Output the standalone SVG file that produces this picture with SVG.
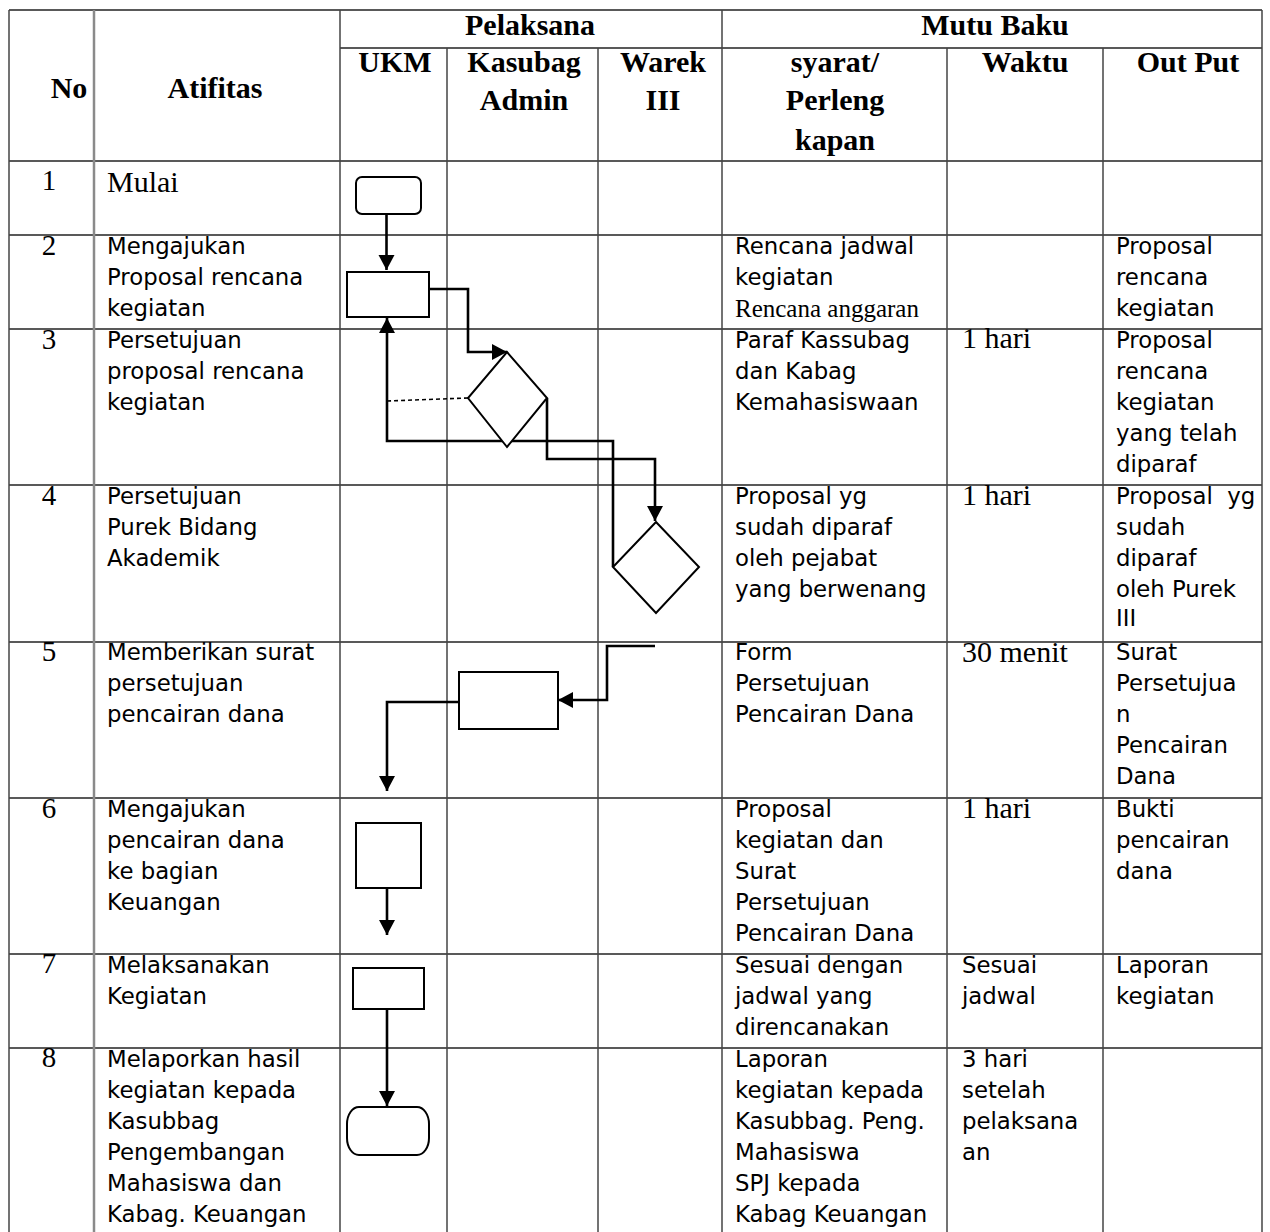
<svg xmlns="http://www.w3.org/2000/svg" width="1270" height="1232" viewBox="0 0 1270 1232">
<style>
.bg{fill:#fff}
.h{stroke:#222;stroke-width:1.3}
.v{stroke:#444;stroke-width:1.5}
.vg{stroke:#8a8a8a;stroke-width:2.5}
.hd{font-family:"Liberation Serif","Times New Roman",serif;font-weight:bold;font-size:30px;fill:#000;text-anchor:middle}
.num{font-family:"Liberation Serif","Times New Roman",serif;font-size:29px;fill:#000;text-anchor:middle}
.ser{font-family:"Liberation Serif","Times New Roman",serif;font-size:30px;fill:#000}
.ser2{font-family:"Liberation Serif","Times New Roman",serif;font-size:25px;fill:#000}
.t{font-family:"DejaVu Sans",Verdana,sans-serif;font-size:22.8px;fill:#000}
.shape{fill:#fff;stroke:#000;stroke-width:2}
.con{fill:none;stroke:#000;stroke-width:2.6}
.dash{fill:none;stroke:#000;stroke-width:1.6;stroke-dasharray:4 3}
</style>
<defs>
<marker id="ah" markerUnits="userSpaceOnUse" markerWidth="16" markerHeight="17" refX="15" refY="8" orient="auto">
<path d="M0,0 L15,8 L0,16 z" fill="#000"/>
</marker>
</defs>
<rect class="bg" x="0" y="0" width="1270" height="1232"/>
<g id="grid">
<line class="h" x1="9" y1="10" x2="1262" y2="10"/>
<line class="h" x1="340" y1="48" x2="1262" y2="48"/>
<line class="h" x1="9" y1="161" x2="1262" y2="161"/>
<line class="h" x1="9" y1="235" x2="1262" y2="235"/>
<line class="h" x1="9" y1="329" x2="1262" y2="329"/>
<line class="h" x1="9" y1="485" x2="1262" y2="485"/>
<line class="h" x1="9" y1="642" x2="1262" y2="642"/>
<line class="h" x1="9" y1="798" x2="1262" y2="798"/>
<line class="h" x1="9" y1="954" x2="1262" y2="954"/>
<line class="h" x1="9" y1="1048" x2="1262" y2="1048"/>
<line class="v" x1="9" y1="10" x2="9" y2="1232"/>
<line class="vg" x1="94" y1="10" x2="94" y2="1232"/>
<line class="v" x1="340" y1="10" x2="340" y2="1232"/>
<line class="v" x1="447" y1="48" x2="447" y2="1232"/>
<line class="v" x1="598" y1="48" x2="598" y2="1232"/>
<line class="v" x1="722" y1="10" x2="722" y2="1232"/>
<line class="v" x1="947" y1="48" x2="947" y2="1232"/>
<line class="v" x1="1103" y1="48" x2="1103" y2="1232"/>
<line class="v" x1="1262" y1="10" x2="1262" y2="1232"/>
</g>
<g id="header">
<text class="hd" x="69" y="98">No</text>
<text class="hd" x="215" y="98">Atifitas</text>
<text class="hd" x="530" y="35">Pelaksana</text>
<text class="hd" x="995" y="35">Mutu Baku</text>
<text class="hd" x="395" y="72">UKM</text>
<text class="hd" x="524" y="72">Kasubag</text>
<text class="hd" x="524" y="110">Admin</text>
<text class="hd" x="663" y="72">Warek</text>
<text class="hd" x="663" y="110">III</text>
<text class="hd" x="835" y="72">syarat/</text>
<text class="hd" x="835" y="110">Perleng</text>
<text class="hd" x="835" y="150">kapan</text>
<text class="hd" x="1025" y="72">Waktu</text>
<text class="hd" x="1188" y="72">Out Put</text>
</g>
<g id="numbers">
<text class="num" x="49" y="190">1</text>
<text class="num" x="49" y="255">2</text>
<text class="num" x="49" y="349">3</text>
<text class="num" x="49" y="505">4</text>
<text class="num" x="49" y="661">5</text>
<text class="num" x="49" y="818">6</text>
<text class="num" x="49" y="973">7</text>
<text class="num" x="49" y="1067">8</text>
</g>
<g id="atifitas">
<text class="ser" x="107" y="192">Mulai</text>
<text class="t" x="107" y="254"><tspan x="107">Mengajukan</tspan><tspan x="107" dy="31">Proposal rencana</tspan><tspan x="107" dy="31">kegiatan</tspan></text>
<text class="t" x="107" y="348"><tspan x="107">Persetujuan</tspan><tspan x="107" dy="31">proposal rencana</tspan><tspan x="107" dy="31">kegiatan</tspan></text>
<text class="t" x="107" y="504"><tspan x="107">Persetujuan</tspan><tspan x="107" dy="31">Purek Bidang</tspan><tspan x="107" dy="31">Akademik</tspan></text>
<text class="t" x="107" y="660"><tspan x="107">Memberikan surat</tspan><tspan x="107" dy="31">persetujuan</tspan><tspan x="107" dy="31">pencairan dana</tspan></text>
<text class="t" x="107" y="817"><tspan x="107">Mengajukan</tspan><tspan x="107" dy="31">pencairan dana</tspan><tspan x="107" dy="31">ke bagian</tspan><tspan x="107" dy="31">Keuangan</tspan></text>
<text class="t" x="107" y="973"><tspan x="107">Melaksanakan</tspan><tspan x="107" dy="31">Kegiatan</tspan></text>
<text class="t" x="107" y="1067"><tspan x="107">Melaporkan hasil</tspan><tspan x="107" dy="31">kegiatan kepada</tspan><tspan x="107" dy="31">Kasubbag</tspan><tspan x="107" dy="31">Pengembangan</tspan><tspan x="107" dy="31">Mahasiswa dan</tspan><tspan x="107" dy="31">Kabag. Keuangan</tspan></text>
</g>
<g id="syarat">
<text class="t" x="735" y="254"><tspan x="735">Rencana jadwal</tspan><tspan x="735" dy="31">kegiatan</tspan></text>
<text class="ser2" x="735" y="317">Rencana anggaran</text>
<text class="t" x="735" y="348"><tspan x="735">Paraf Kassubag</tspan><tspan x="735" dy="31">dan Kabag</tspan><tspan x="735" dy="31">Kemahasiswaan</tspan></text>
<text class="t" x="735" y="504"><tspan x="735">Proposal yg</tspan><tspan x="735" dy="31">sudah diparaf</tspan><tspan x="735" dy="31">oleh pejabat</tspan><tspan x="735" dy="31">yang berwenang</tspan></text>
<text class="t" x="735" y="660"><tspan x="735">Form</tspan><tspan x="735" dy="31">Persetujuan</tspan><tspan x="735" dy="31">Pencairan Dana</tspan></text>
<text class="t" x="735" y="817"><tspan x="735">Proposal</tspan><tspan x="735" dy="31">kegiatan dan</tspan><tspan x="735" dy="31">Surat</tspan><tspan x="735" dy="31">Persetujuan</tspan><tspan x="735" dy="31">Pencairan Dana</tspan></text>
<text class="t" x="735" y="973"><tspan x="735">Sesuai dengan</tspan><tspan x="735" dy="31">jadwal yang</tspan><tspan x="735" dy="31">direncanakan</tspan></text>
<text class="t" x="735" y="1067"><tspan x="735">Laporan</tspan><tspan x="735" dy="31">kegiatan kepada</tspan><tspan x="735" dy="31">Kasubbag. Peng.</tspan><tspan x="735" dy="31">Mahasiswa</tspan><tspan x="735" dy="31">SPJ kepada</tspan><tspan x="735" dy="31">Kabag Keuangan</tspan></text>
</g>
<g id="waktu">
<text class="ser" x="962" y="348">1 hari</text>
<text class="ser" x="962" y="505">1 hari</text>
<text class="ser" x="962" y="662">30 menit</text>
<text class="ser" x="962" y="818">1 hari</text>
<text class="t" x="962" y="973"><tspan x="962">Sesuai</tspan><tspan x="962" dy="31">jadwal</tspan></text>
<text class="t" x="962" y="1067"><tspan x="962">3 hari</tspan><tspan x="962" dy="31">setelah</tspan><tspan x="962" dy="31">pelaksana</tspan><tspan x="962" dy="31">an</tspan></text>
</g>
<g id="output">
<text class="t" x="1116" y="254"><tspan x="1116">Proposal</tspan><tspan x="1116" dy="31">rencana</tspan><tspan x="1116" dy="31">kegiatan</tspan></text>
<text class="t" x="1116" y="348"><tspan x="1116">Proposal</tspan><tspan x="1116" dy="31">rencana</tspan><tspan x="1116" dy="31">kegiatan</tspan><tspan x="1116" dy="31">yang telah</tspan><tspan x="1116" dy="31">diparaf</tspan></text>
<text class="t" x="1116" y="504" xml:space="preserve"><tspan x="1116">Proposal  yg</tspan><tspan x="1116" dy="31">sudah</tspan><tspan x="1116" dy="31">diparaf</tspan><tspan x="1116" dy="31">oleh Purek</tspan><tspan x="1116" dy="29">III</tspan></text>
<text class="t" x="1116" y="660"><tspan x="1116">Surat</tspan><tspan x="1116" dy="31">Persetujua</tspan><tspan x="1116" dy="31">n</tspan><tspan x="1116" dy="31">Pencairan</tspan><tspan x="1116" dy="31">Dana</tspan></text>
<text class="t" x="1116" y="817"><tspan x="1116">Bukti</tspan><tspan x="1116" dy="31">pencairan</tspan><tspan x="1116" dy="31">dana</tspan></text>
<text class="t" x="1116" y="973"><tspan x="1116">Laporan</tspan><tspan x="1116" dy="31">kegiatan</tspan></text>
</g>
<g id="connectors">
<path class="con" d="M386.5,214 L386.5,270" marker-end="url(#ah)"/>
<path class="con" d="M429,289 L468,289 L468,352 L507,352" marker-end="url(#ah)"/>
<path class="con" d="M613,567 L613,441 L387,441 L387,318" marker-end="url(#ah)"/>
<path class="dash" d="M468,398 L387,401"/>
<path class="con" d="M547,398 L547,459 L655,459 L655,521" marker-end="url(#ah)"/>
<path class="con" d="M655,646 L607,646 L607,700 L558,700" marker-end="url(#ah)"/>
<path class="con" d="M459,702 L387,702 L387,791" marker-end="url(#ah)"/>
<path class="con" d="M387,888 L387,935" marker-end="url(#ah)"/>
<path class="con" d="M387,1009 L387,1106" marker-end="url(#ah)"/>
</g>
<g id="n1-start"><rect class="shape" x="356" y="177" width="65" height="37" rx="6"/></g>
<g id="n2-ajukan"><rect class="shape" x="347" y="272" width="82" height="45"/></g>
<g id="n3-decision"><polygon class="shape" points="507,352 547,398 507,447 468,398"/></g>
<g id="n4-decision"><polygon class="shape" points="656,522 699,567 656,613 613,567"/></g>
<g id="n5-surat"><rect class="shape" x="459" y="672" width="99" height="57"/></g>
<g id="n6-cair"><rect class="shape" x="356" y="823" width="65" height="65"/></g>
<g id="n7-laksana"><rect class="shape" x="353" y="968" width="71" height="41"/></g>
<g id="n8-end"><rect class="shape" x="347" y="1107" width="82" height="48" rx="12" ry="17"/></g>
</svg>
